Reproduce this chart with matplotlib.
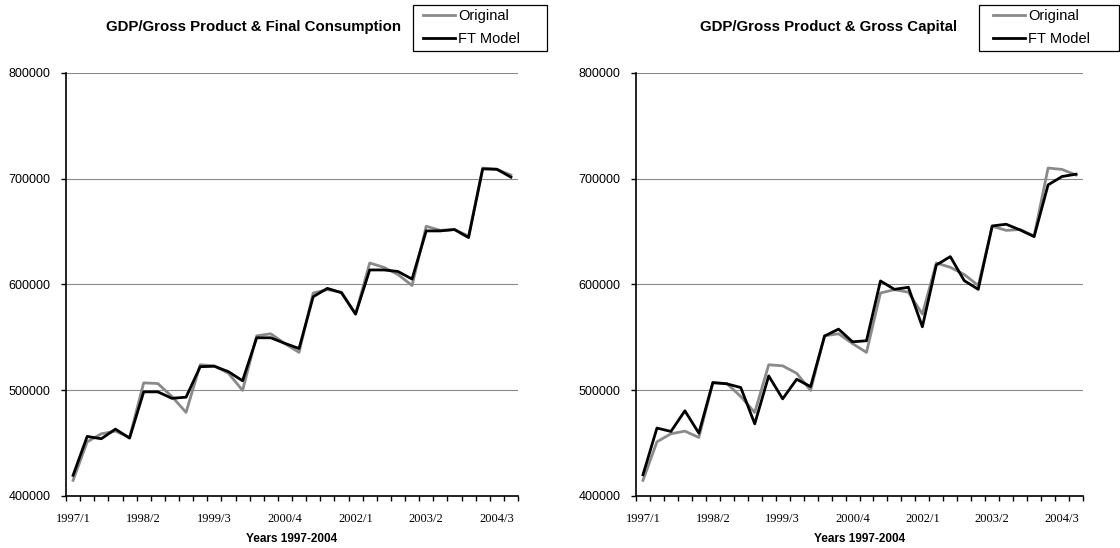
import matplotlib
matplotlib.use('Agg')
import matplotlib.pyplot as plt
from matplotlib.patches import Rectangle
import numpy as np

# quarterly GDP 1997/1 - 2004/4
quarters = [f'{y}/{q}' for y in range(1997, 2005) for q in range(1, 5)]

original = [414800, 451200, 458800, 461300, 455300, 506900, 506300, 494000,
            479000, 524000, 523000, 516000, 499800, 551400, 553300, 544000,
            535700, 591800, 595000, 592600, 571900, 620200, 616100, 609300,
            598900, 654900, 651000, 651800, 645700, 709900, 708600, 703300]

ft_consumption = [419500, 456300, 454100, 463200, 454700, 498400, 498400, 492300,
                  493400, 522200, 522600, 517500, 508900, 549500, 549500, 544200,
                  539400, 588300, 596200, 592100, 571900, 613600, 613600, 612200,
                  605000, 650500, 650500, 651800, 644200, 709100, 708800, 701300]

ft_capital = [420100, 464200, 461000, 480500, 459400, 507200, 506000, 502500,
              468200, 513500, 491800, 510300, 503400, 551200, 557700, 545700,
              546700, 603200, 595300, 597200, 559900, 618300, 626200, 603500,
              595300, 655200, 656800, 651400, 645100, 694000, 701900, 704100]

titles = ['GDP/Gross Product & Final Consumption', 'GDP/Gross Product & Gross Capital']
models = [ft_consumption, ft_capital]
series_names = ['Original', 'FT Model']
x_label = 'Years 1997-2004'

W, H = 1120, 548
fig = plt.figure(figsize=(W / 100, H / 100), dpi=100)
plt.rcParams['font.family'] = 'Liberation Sans'

grey = '#8a8a8a'
# panel geometry in pixels: axes left, axes right, title centre, legend box left/right, handle start
panels = [
    dict(left=66, right=518, title_x=253, box=(413, 547), leg_x=423),
    dict(left=636, right=1083, title_x=829, box=(979, 1119), leg_x=993),
]
top, bottom = 72.7, 496

x = np.arange(len(quarters))
for p, title, model in zip(panels, titles, models):
    ax = fig.add_axes([p['left'] / W, 1 - bottom / H, (p['right'] - p['left']) / W, (bottom - top) / H])
    ax.plot(x, original, color=grey, lw=2.0, label=series_names[0])
    ax.plot(x, model, color='black', lw=2.0, label=series_names[1])

    ax.set_xlim(-0.5, len(quarters) - 0.5)
    ax.set_ylim(400000, 800000)
    ax.set_yticks(np.arange(400000, 800001, 100000))
    ax.set_yticklabels([str(v) for v in range(400000, 800001, 100000)], fontsize=9)
    ax.yaxis.grid(True, color=grey, lw=0.8)
    ax.set_axisbelow(True)

    ax.set_xticks(x[::5])
    ax.set_xticklabels(quarters[::5], fontsize=9, family='Liberation Serif')
    ax.set_xticks(np.arange(-0.5, len(quarters)), minor=True)
    ax.tick_params(axis='x', which='major', length=0, pad=12)
    ax.tick_params(axis='x', which='minor', length=3.8, width=1, direction='out')
    ax.tick_params(axis='y', length=3.8, width=1, pad=7.5)

    for s in ['top', 'right']:
        ax.spines[s].set_visible(False)
    for s in ['left', 'bottom']:
        ax.spines[s].set_linewidth(1.2)

    ax.set_xlabel(x_label, fontsize=8.5, fontweight='bold')
    ax.xaxis.set_label_coords(0.5, -(533 - bottom) / (bottom - top))

    fig.text(p['title_x'] / W, 1 - 27 / H, title, fontsize=10.8, fontweight='bold',
             ha='center', va='center')

    handles, labels = ax.get_legend_handles_labels()
    fig.legend(handles, labels, loc='upper left', bbox_to_anchor=(p['leg_x'] / W, 1 - 9 / H),
               frameon=False, fontsize=10.5, handlelength=2.2, handletextpad=0.2,
               borderpad=0, borderaxespad=0, labelspacing=0.65)
    bx0, bx1 = p['box']
    fig.add_artist(Rectangle((bx0 / W, 1 - 51 / H), (bx1 - bx0) / W, 46 / H,
                             transform=fig.transFigure, fill=False, ec='black', lw=0.9))

plt.savefig('out.png', dpi=100)
